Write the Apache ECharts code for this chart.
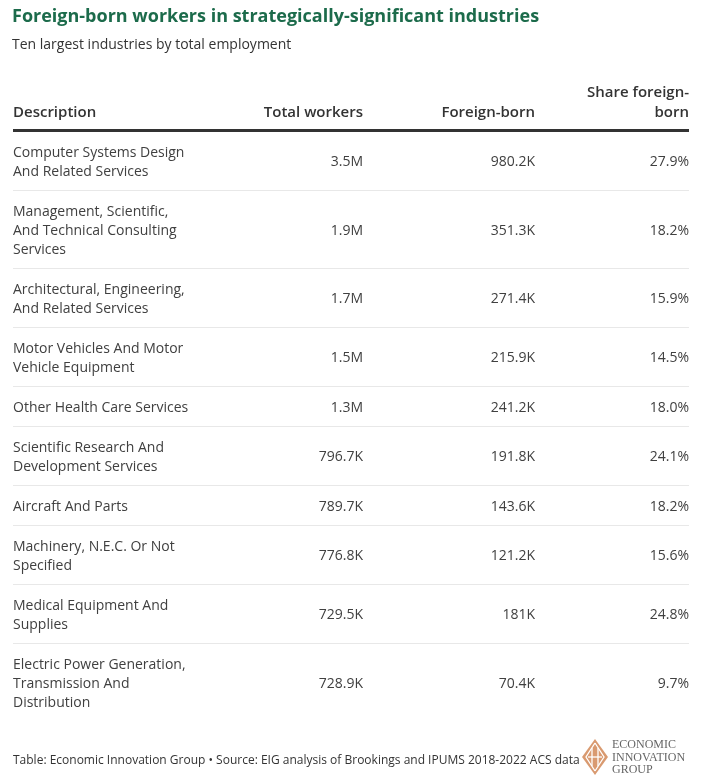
<!DOCTYPE html>
<html>
<head>
<meta charset="utf-8">
<script src="https://cdn.jsdelivr.net/npm/echarts@6/dist/echarts.min.js"></script>
<style>
html,body{margin:0;padding:0;background:#fff;}
#chart{width:702px;height:777px;}
</style>
</head>
<body>
<div id="chart"></div>
<script>
// ---- Data ----
var columnHeaders = ['Description', 'Total workers', 'Foreign-born', 'Share foreign-\nborn'];
var descriptions = [
  'Computer Systems Design\nAnd Related Services',
  'Management, Scientific,\nAnd Technical Consulting\nServices',
  'Architectural, Engineering,\nAnd Related Services',
  'Motor Vehicles And Motor\nVehicle Equipment',
  'Other Health Care Services',
  'Scientific Research And\nDevelopment Services',
  'Aircraft And Parts',
  'Machinery, N.E.C. Or Not\nSpecified',
  'Medical Equipment And\nSupplies',
  'Electric Power Generation,\nTransmission And\nDistribution'
];
var totalWorkers = ['3.5M', '1.9M', '1.7M', '1.5M', '1.3M', '796.7K', '789.7K', '776.8K', '729.5K', '728.9K'];
var foreignBorn = ['980.2K', '351.3K', '271.4K', '215.9K', '241.2K', '191.8K', '143.6K', '121.2K', '181K', '70.4K'];
var shareForeignBorn = ['27.9%', '18.2%', '15.9%', '14.5%', '18.0%', '24.1%', '18.2%', '15.6%', '24.8%', '9.7%'];

// ---- Layout (not data) ----
var FONT = '"Open Sans", "Noto Sans", sans-serif';
var LINE_H = 19, PAD = 21;
var colAnchor = [13, 363, 535, 689]; // x positions (left for col 0, right for others)
var TEXT_COLOR = '#404040';

// Build row extents in "line units" on the y value axis
var rows = [];
var cursor = 0;
descriptions.forEach(function (d, i) {
  var n = d.split('\n').length;
  var h = PAD + LINE_H * n;
  rows.push({ i: i, top: cursor, bottom: cursor + h, last: i === descriptions.length - 1 });
  cursor += h;
});
var totalH = cursor;
var HEADER_H = 60;

var cellData = rows.map(function (r) { return [r.top, r.bottom, r.i, r.last ? 1 : 0]; });

var chart = echarts.init(document.getElementById('chart'), null, { renderer: 'canvas' });

function renderRow(params, api) {
  var top = api.value(0), bottom = api.value(1), idx = api.value(2), last = api.value(3);
  var pTop = api.coord([0, top]);
  var pBot = api.coord([0, bottom]);
  var mid = (pTop[1] + pBot[1]) / 2 + 2;
  var children = [];
  var vals = [descriptions[idx], totalWorkers[idx], foreignBorn[idx], shareForeignBorn[idx]];
  for (var c = 0; c < 4; c++) {
    var x = api.coord([colAnchor[c], 0])[0];
    children.push({
      type: 'text',
      style: {
        x: x, y: mid,
        text: vals[c],
        fill: TEXT_COLOR,
        font: '14px ' + FONT,
        lineHeight: LINE_H,
        align: c === 0 ? 'left' : 'right',
        verticalAlign: 'middle'
      }
    });
  }
  if (!last) {
    var x0 = api.coord([colAnchor[0], 0])[0];
    var x1 = api.coord([colAnchor[3], 0])[0];
    children.push({
      type: 'line',
      shape: { x1: x0, y1: Math.round(pBot[1]) + 0.5, x2: x1, y2: Math.round(pBot[1]) + 0.5 },
      style: { stroke: '#e8e8e8', lineWidth: 1 }
    });
  }
  return { type: 'group', children: children };
}

function renderHeader(params, api) {
  var base = api.coord([0, 0])[1];
  var children = [];
  for (var c = 0; c < 4; c++) {
    var x = api.coord([colAnchor[c], 0])[0];
    children.push({
      type: 'text',
      style: {
        x: x, y: base - 8,
        text: columnHeaders[c],
        fill: '#333333',
        font: '600 15px ' + FONT,
        lineHeight: 20,
        align: c === 0 ? 'left' : 'right',
        verticalAlign: 'bottom'
      }
    });
  }
  var x0 = api.coord([colAnchor[0], 0])[0];
  var x1 = api.coord([colAnchor[3], 0])[0];
  children.push({
    type: 'line',
    shape: { x1: x0, y1: base - 0.5, x2: x1, y2: base - 0.5 },
    style: { stroke: '#333333', lineWidth: 3 }
  });
  return { type: 'group', children: children };
}

var option = {
  backgroundColor: '#ffffff',
  animation: false,
  title: {
    text: 'Foreign-born workers in strategically-significant industries',
    subtext: 'Ten largest industries by total employment',
    left: 7, top: 3,
    itemGap: 12,
    textStyle: { fontFamily: FONT, fontSize: 18, fontWeight: 'bold', color: '#1c6b4b' },
    subtextStyle: { fontFamily: FONT, fontSize: 14, color: '#333333' }
  },
  grid: { left: 0, right: 0, top: 131 - HEADER_H, height: totalH + HEADER_H, containLabel: false },
  xAxis: { type: 'value', min: 0, max: 702, show: false },
  yAxis: { type: 'value', min: -HEADER_H, max: totalH, inverse: true, show: false },
  series: [
    {
      type: 'custom',
      renderItem: renderHeader,
      data: [[0]],
      silent: true
    },
    {
      type: 'custom',
      renderItem: renderRow,
      encode: { y: [0, 1] },
      data: cellData,
      silent: true
    }
  ],
  graphic: [
    {
      type: 'text', left: 13, top: 755,
      style: {
        text: 'Table: Economic Innovation Group \u2022 Source: EIG analysis of Brookings and IPUMS 2018-2022 ACS data',
        font: '12px ' + FONT, fill: '#333333'
      }
    },
    {
      type: 'group', left: 582, top: 739,
      children: [
        { type: 'polygon', shape: { points: [[13, 0], [26, 18], [13, 36], [0, 18]] }, style: { fill: '#d99a70' } },
        { type: 'polyline', shape: { points: [[13, 4], [4, 18], [13, 32]] }, style: { stroke: '#fff', lineWidth: 1.3, fill: null } },
        { type: 'polyline', shape: { points: [[13, 4], [22, 18], [13, 32]] }, style: { stroke: '#fff', lineWidth: 1.3, fill: null } },
        { type: 'line', shape: { x1: 10, y1: 9, x2: 10, y2: 27 }, style: { stroke: '#fff', lineWidth: 1.3 } },
        { type: 'line', shape: { x1: 16, y1: 9, x2: 16, y2: 27 }, style: { stroke: '#fff', lineWidth: 1.3 } },
        { type: 'line', shape: { x1: 6, y1: 18, x2: 20, y2: 18 }, style: { stroke: '#fff', lineWidth: 1.3 } }
      ]
    },
    {
      type: 'text', left: 612, top: 739,
      style: {
        text: 'ECONOMIC\nINNOVATION\nGROUP',
        font: '12px "Liberation Serif", "DejaVu Serif", serif',
        lineHeight: 12.5,
        fill: '#666666'
      }
    }
  ]
};

chart.setOption(option);
</script>
</body>
</html>
